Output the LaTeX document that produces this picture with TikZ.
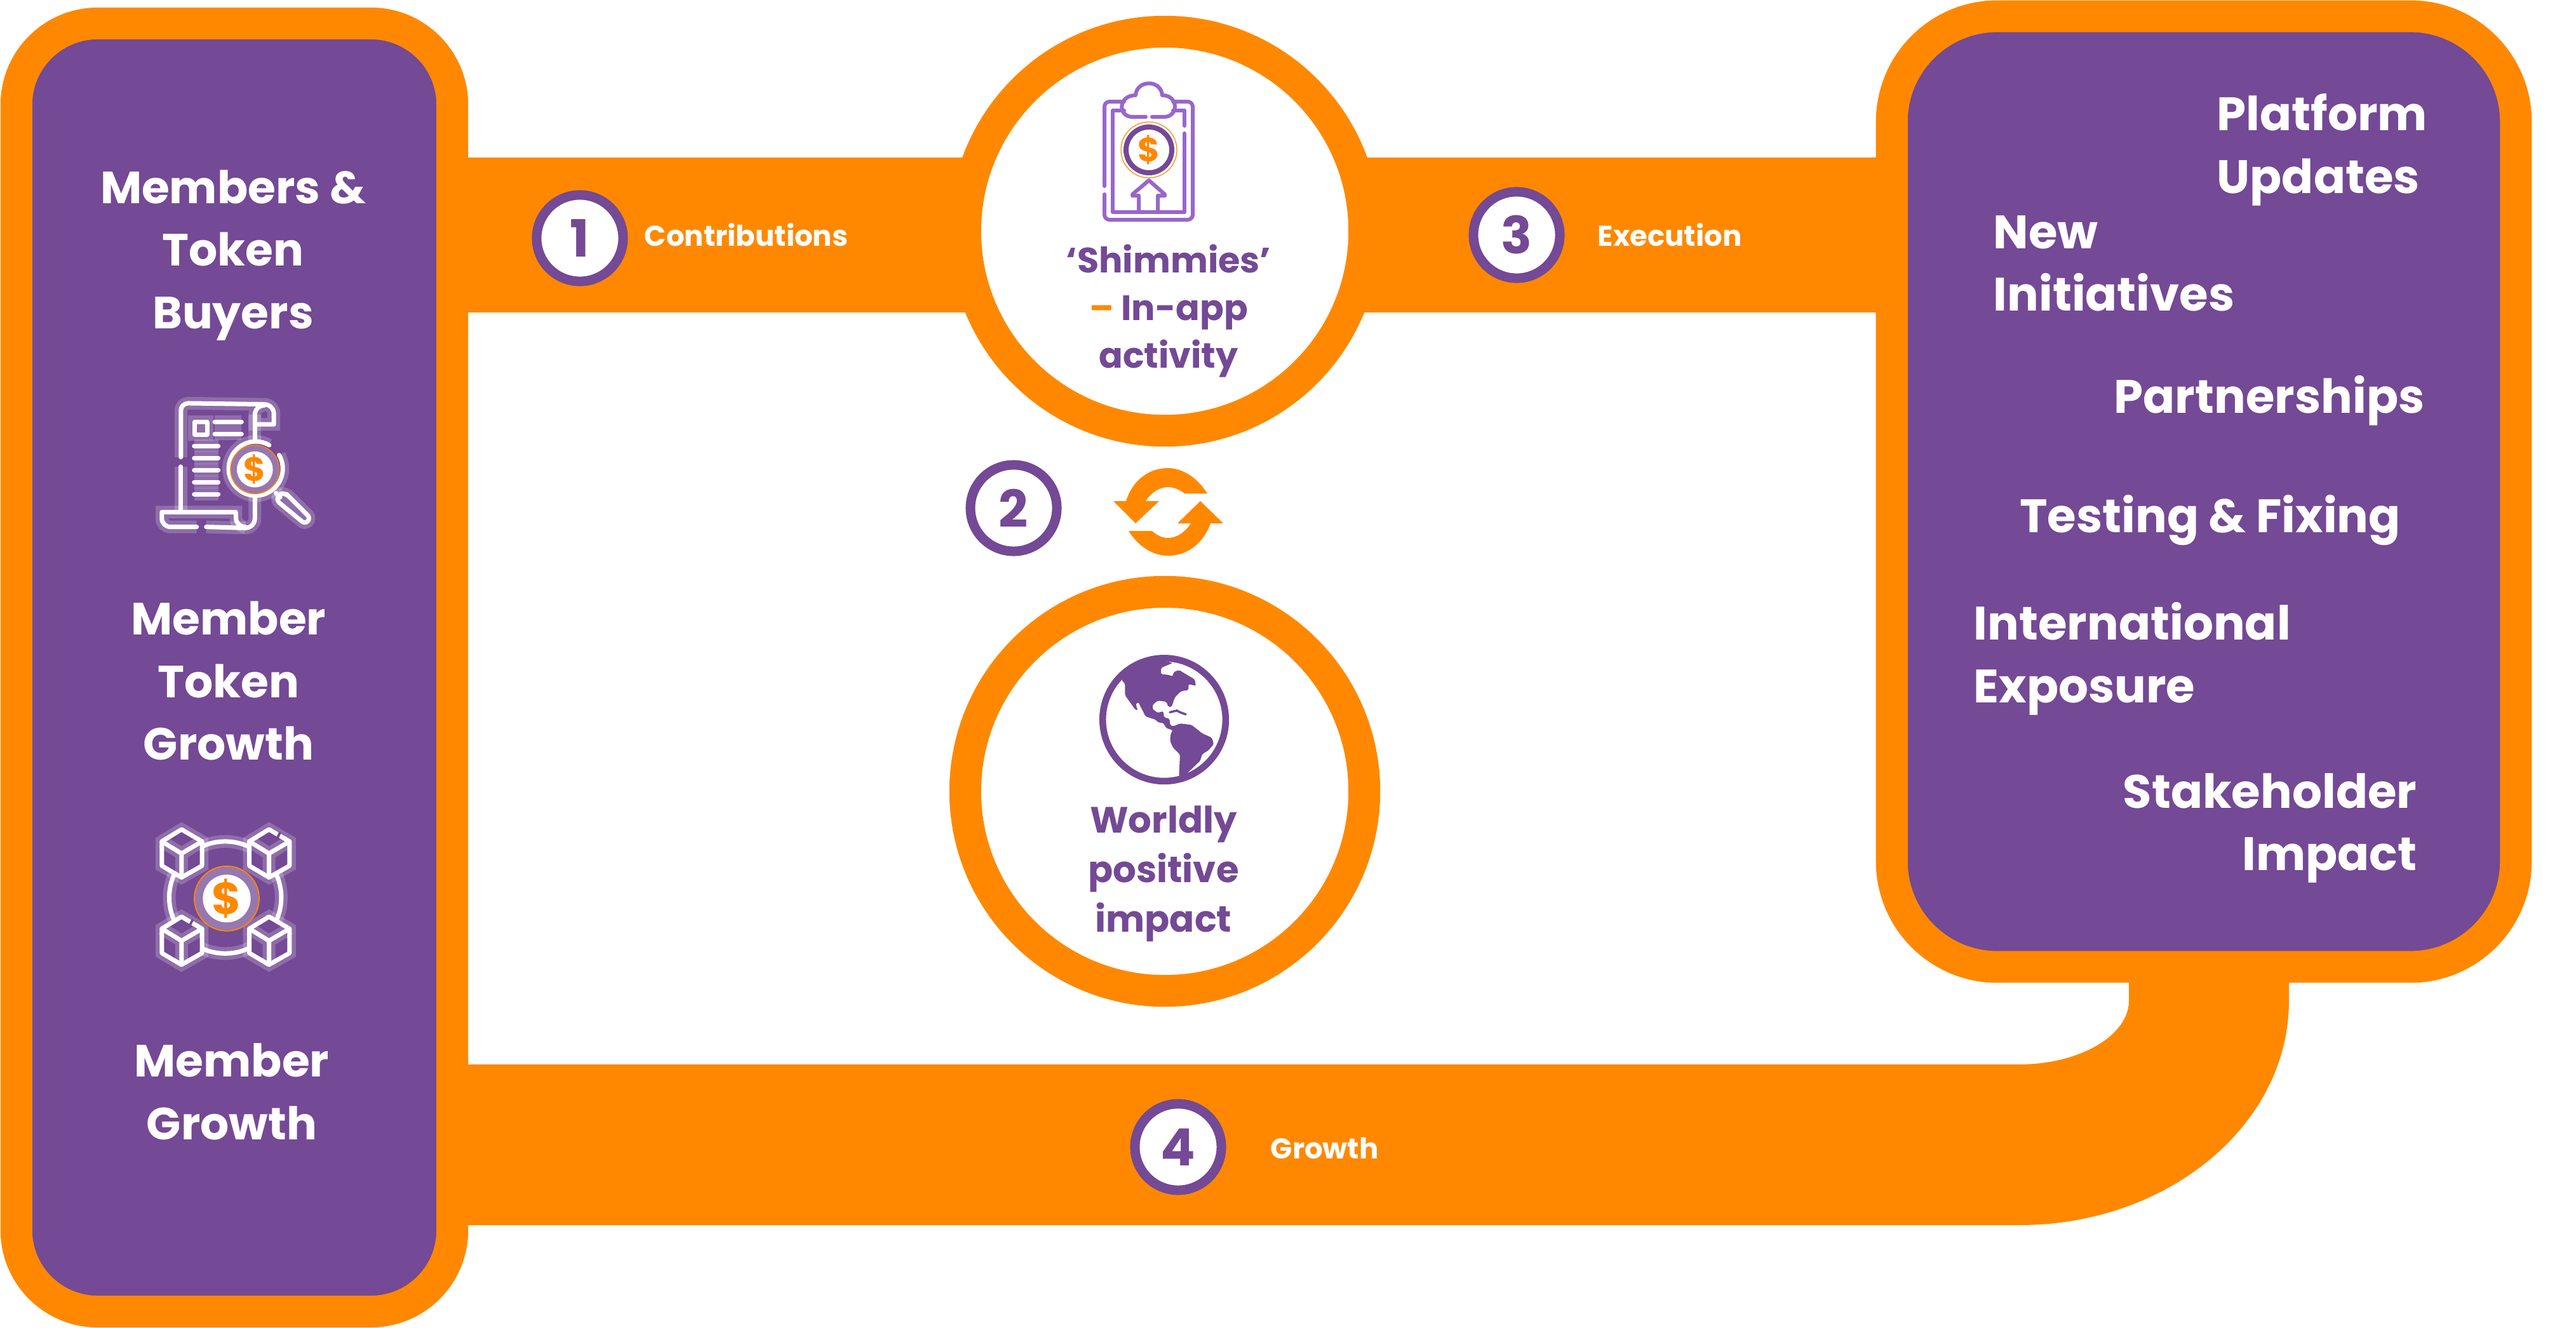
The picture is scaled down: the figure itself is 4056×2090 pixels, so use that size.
\documentclass[tikz,border=0pt]{standalone}
\usepackage{fontspec}
\setmainfont{Poppins}
\usetikzlibrary{backgrounds}

\definecolor{bandorange}{HTML}{FF8800}
\definecolor{boxpurple}{HTML}{744995}
\definecolor{clippurple}{HTML}{9966CC}

\tikzset{
  sidebox/.style={draw=bandorange, fill=boxpurple, line width=0.5cm, inner sep=0pt},
  hubcircle/.style={circle, draw=bandorange, fill=white, line width=0.5cm, minimum size=6.28cm, inner sep=0pt},
  numbadge/.style={circle, draw=boxpurple, fill=white, line width=0.15cm, minimum size=1.36cm, inner sep=0pt, text=boxpurple, font=\bfseries\fontsize{23}{23}\selectfont},
  bigtext/.style={text=white, font=\bfseries\fontsize{21}{28}\selectfont, inner sep=0pt},
  lefttext/.style={text=white, align=center, font=\bfseries\fontsize{20.2}{28}\selectfont, inner sep=0pt},
  hubtext/.style={text=boxpurple, align=center, inner sep=0pt},
  steptext/.style={text=white, anchor=west, font=\bfseries\fontsize{12.8}{13}\selectfont, inner sep=0pt},
  band/.style={draw=bandorange, line width=2.44cm},
  iconline/.style={draw=white, line width=0.07cm, line cap=round, line join=round,
    preaction={draw=white, draw opacity=.2, line width=0.2cm}},
  clipline/.style={draw=clippurple, line width=0.06cm, line cap=round, line join=round},
  dollar/.style={text=bandorange, inner sep=0pt, font=\bfseries\fontsize{#1}{#1}\selectfont},
  blockcube/.pic={
    \path[iconline, fill=boxpurple] (0,-114) -- (97,-57) -- (97,58) -- (0,113) -- (-93,58) -- (-93,-57) -- cycle;
    \draw[iconline] (-93,-57) -- (0,0) -- (97,-57) (0,0) -- (0,113);
  },
}

\begin{document}
\begin{tikzpicture}[x=0.01cm, y=-0.01cm]
\useasboundingbox (0,0) rectangle (4056,2090);

% Boxes and hubs
\node[sidebox, rounded corners=1.28cm, minimum width=6.86cm, minimum height=20.27cm] (leftbox) at (369,1051) {};
\node[sidebox, rounded corners=1.66cm, minimum width=9.82cm, minimum height=14.96cm] (rightbox) at (3470,774) {};
\node[hubcircle] (shimmies) at (1834,364) {};
\node[hubcircle] (worldly) at (1834,1246) {};

% Step badges
\node[numbadge] (one) at (913,375) {1};
\node[numbadge] (two) at (1596,800) {2};
\node[numbadge] (three) at (2388,370) {3};
\node[numbadge] (four) at (1855,1806) {4};

% Bands behind everything
\coordinate (topband) at (1834,370);
\coordinate (growthtop) at (3179,1676);
\coordinate (growthbottom) at (3179,1929);
\coordinate (stemleft) at (3352,1540);
\coordinate (stemright) at (3604,1540);
\begin{scope}[on background layer]
  \draw[band] (leftbox.center |- topband) -- (topband);
  \draw[band] (topband) -- (rightbox.center |- topband);
  \fill[bandorange] (leftbox.center |- growthtop) -- (growthtop)
    .. controls (3275,1676) and (3352,1630) .. (3352,1576) -- (stemleft) -- (stemright) -- (3604,1576)
    .. controls (3604,1770) and (3415,1929) .. (growthbottom) -- (leftbox.center |- growthbottom) -- cycle;
\end{scope}

% Left box labels
\node[lefttext] (buyers) at (367,402) {Members \&\\Token\\Buyers};
\node[lefttext] (tokengrowth) at (360,1072) {Member\\Token\\Growth};
\node[lefttext] (membergrowth) at (365,1719) {Member\\Growth};

% Right box labels
\node[bigtext, align=left, anchor=west] (platform) at (3490,236) {Platform\\Updates};
\node[bigtext, align=left, anchor=west] (initiatives) at (3138,415) {New\\Initiatives};
\node[bigtext] (partners) at (3573,631) {Partnerships};
\node[bigtext] (testing) at (3480,819) {Testing \& Fixing};
\node[bigtext, align=left, anchor=west] (exposure) at (3107,1037) {International\\Exposure};
\node[bigtext, align=right, anchor=east] (stakeholder) at (3806,1304) {Stakeholder\\Impact};

% Hub labels
\node[hubtext, font=\bfseries\fontsize{15.8}{21.3}\selectfont] (shimmylabel) at (1840,490) {‘Shimmies’\\{\color{bandorange}–} In-app\\activity};
\node[hubtext, font=\bfseries\fontsize{16.4}{22.2}\selectfont] (worldlylabel) at (1832,1376) {Worldly\\positive\\impact};

% Step labels
\node[steptext] (contrib) at (1014,370) {Contributions};
\node[steptext] (execution) at (2515,370) {Execution};
\node[steptext] (growth) at (2000,1808) {Growth};

% Document and magnifier icon
\begin{scope}[shift={(150,600)}, x=0.00333cm, y=-0.00333cm]
  \draw[iconline] (405,360) -- (405,140) arc (180:270:35) -- (800,110) arc (-90:0:45) -- (845,205) -- (755,205) -- (755,160) arc (180:270:45);
  \draw[iconline] (755,160) -- (755,285);
  \draw[iconline] (405,405) -- (405,615);
  \draw[iconline] (755,550) -- (755,650) arc (0:90:45) -- (525,690);
  \draw[iconline] (480,690) -- (355,690) arc (90:180:40) -- (315,620) -- (665,620) -- (665,645) arc (180:90:45);
  \draw[iconline] (470,193) rectangle (530,253);
  \draw[iconline] (565,193) -- (692,193) (565,250) -- (692,250);
  \foreach \liney in {307,364,421,478,535}
    \draw[iconline] (468,\liney) -- (582,\liney);
  \draw[iconline, fill=boxpurple] (870,350) arc (-30:300:128) ;
  \fill[white!25!boxpurple] (755,418) circle (113);
  \draw[bandorange, line width=0.015cm] (755,418) circle (115);
  \fill[white] (755,418) circle (85);
  \node[dollar=15] (docdollar) at (755,418) {\$};
  \draw[iconline] (855,530) -- (875,550);
  \draw[iconline] (905,535) -- (1005,635) arc (-45:135:20) -- (870,575) arc (135:315:25);
\end{scope}

% Blocks icon
\begin{scope}[shift={(150,1270)}, x=0.00333cm, y=-0.00333cm]
  \draw[iconline] (615,430) circle (265);
  \pic at (408,222) {blockcube};
  \pic at (822,222) {blockcube};
  \pic at (408,635) {blockcube};
  \pic at (822,635) {blockcube};
  \draw[boxpurple, line width=0.12cm] (862,135) -- (872,140) (448,548) -- (458,553);
  \fill[white!25!boxpurple] (622,435) circle (150);
  \draw[bandorange, line width=0.02cm] (622,435) circle (153);
  \fill[white] (622,435) circle (113);
  \node[dollar=20] (blockdollar) at (622,435) {\$};
\end{scope}

% Clipboard icon
\draw[clipline] (1739,293) -- (1739,168) arc (180:270:8) -- (1770,160);
\draw[clipline] (1847,160) -- (1870,160) arc (-90:0:8) -- (1878,338) arc (0:90:8) -- (1747,346) arc (90:180:8) -- (1739,306);
\draw[clipline] (1770,174) -- (1752,174) -- (1752,334) -- (1865,334) -- (1865,210);
\draw[clipline] (1865,198) -- (1865,174) -- (1847,174);
\draw[clipline] (1804,184) -- (1783,184) .. controls (1760,184) and (1760,150) .. (1788,150)
  .. controls (1790,125) and (1828,125) .. (1830,150) .. controls (1856,150) and (1856,184) .. (1833,184) -- (1814,184);
\draw[clipline] (1793,332) -- (1793,308) -- (1783,308) -- (1783,306) -- (1809,284) -- (1834,306) -- (1834,308) -- (1823,308) -- (1823,332);
\draw[bandorange, line width=0.012cm] (1809,236) circle (44);
\draw[boxpurple, line width=0.08cm] (1809,236) circle (36);
\node[dollar=15] (clipdollar) at (1809,236) {\$};

% Refresh arrows
\fill[bandorange] (1901,777) .. controls (1885,752) and (1862,737) .. (1839,737) .. controls (1808,737) and (1783,757) .. (1773,789)
  -- (1753,789) -- (1788,824) -- (1825,789) -- (1804,789) .. controls (1812,776) and (1825,767) .. (1839,767) .. controls (1848,767) and (1858,771) .. (1865,777) -- cycle;
\fill[bandorange] (1777,836) .. controls (1792,860) and (1815,875) .. (1839,875) .. controls (1870,875) and (1895,855) .. (1906,824)
  -- (1926,824) -- (1890,789) -- (1854,824) -- (1875,824) .. controls (1866,838) and (1853,847) .. (1839,847) .. controls (1829,847) and (1820,842) .. (1814,836) -- cycle;

% Globe icon
\begin{scope}[shift={(1650,1000)}, x=0.00333cm, y=-0.00333cm]
  \draw[boxpurple, line width=0.105cm] (550,400) circle (291);
  \fill[boxpurple, rounded corners=0.02cm] (348,212) -- (390,160) -- (450,128) -- (520,112) -- (590,132) -- (535,155) -- (535,185) -- (570,188) -- (590,195) -- (595,175) -- (620,165) -- (695,210) -- (700,240) -- (665,232) -- (665,260) -- (630,265) -- (600,295) -- (585,340) -- (570,340) -- (560,315) -- (520,310) -- (495,330) -- (495,350) -- (520,368) -- (545,360) -- (550,390) -- (575,395) -- (578,425) -- (592,432) -- (625,418) -- (680,425) -- (730,465) -- (775,485) -- (785,515) -- (760,545) -- (730,563) -- (720,595) -- (655,657) -- (620,668) -- (625,565) -- (590,530) -- (578,500) -- (580,470) -- (590,450) -- (560,440) -- (545,415) -- (520,413) -- (510,400) -- (462,385) -- (428,318) -- (415,325) -- (425,355) -- (415,355) -- (365,285) -- (365,230) -- cycle;
  \draw[boxpurple, line width=0.035cm, line cap=round] (577,365) -- (610,357) -- (625,365) -- (652,375);
\end{scope}
\end{tikzpicture}
\end{document}
